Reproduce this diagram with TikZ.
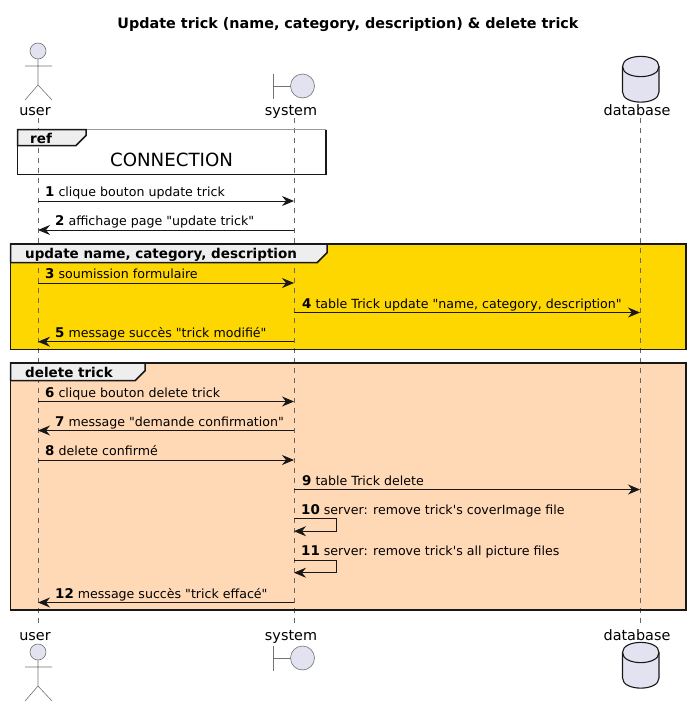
\documentclass[tikz,border=0pt]{standalone}
\usepackage{fontspec}
\setmainfont{DejaVu Sans}
\newfontfamily\djv{DejaVu Sans}
\usetikzlibrary{arrows.meta,positioning,calc}
\definecolor{partfill}{HTML}{E2E2F0}
\definecolor{inkc}{HTML}{181818}
\definecolor{goldc}{HTML}{FFD700}
\definecolor{peachc}{HTML}{FFD8B5}
\definecolor{tabc}{HTML}{EEEEEE}
\tikzset{
  ar/.style ={-{Stealth[length=12pt,width=10pt,inset=4pt]},line width=.9pt,draw=inkc},
  life/.style={draw=black!60,line width=.5pt,dash pattern=on 5pt off 5pt},
  frm/.style={draw=inkc,line width=1.5pt},
  tabf/.style={draw=inkc,line width=1.5pt,fill=tabc},
  fig/.style={draw=black!55,line width=.6pt},
  dbs/.style={draw=inkc,line width=1.1pt,fill=partfill},
  msg/.style={anchor=base west,inner sep=0pt,font=\djv\fontsize{12.6}{15}\selectfont},
  part/.style={anchor=base,inner sep=0pt,font=\fontsize{14.4}{16}\selectfont},
  hdr/.style={anchor=base west,inner sep=0pt,font=\fontsize{13.5}{15}\selectfont\bfseries},
}
\begin{document}
\begin{tikzpicture}[x=1pt,y=-1pt]
  \useasboundingbox (0,0) rectangle (691,707);
  \node[anchor=base,inner sep=0pt,font=\fontsize{14.35}{16}\selectfont\bfseries] (title) at (348,28){Update trick (name, category, description) \& delete trick};
  % grouping frames
  \fill[goldc] (10.5,244) rectangle (686,349.5);
  \fill[peachc] (10.5,363) rectangle (686,610);
  % lifelines
  \foreach \n/\x in {user/38,system/294,database/640}{
    \coordinate (\n top) at (\x,118);
    \coordinate (\n bot) at (\x,625);
    \draw[life] (\n top)--(\n bot);
  }
  % ref
  \draw[draw=black!40,line width=.7pt] (17.5,129.5)--(326,129.5);
  \draw[frm] (326,129.5)--(326,174.5)--(17.5,174.5)--(17.5,129.5);
  \draw[tabf] (17.5,129.5)--(86,129.5)--(86,135.5)--(76,145.5)--(17.5,145.5)--cycle;
  \node[hdr] (reft) at (30,143){ref};
  \node[anchor=base,inner sep=0pt,font=\fontsize{18.2}{20}\selectfont] (refn) at (171.5,166){CONNECTION};
  % update
  \draw[frm] (10.5,244) rectangle (686,349.5);
  \draw[tabf] (10.5,244)--(327,244)--(327,252.7)--(317,262.7)--(10.5,262.7)--cycle;
  \node[hdr] (updt) at (25,258.5){update name, category, description};
  % delete
  \draw[frm] (10.5,363) rectangle (686,610);
  \draw[tabf] (10.5,363)--(145,363)--(145,370.7)--(135,380.7)--(10.5,380.7)--cycle;
  \node[hdr] (delt) at (25,377.5){delete trick};
  % messages
  \foreach \i/\y in {1/201,2/230,3/283,4/312.5,5/341.7,6/401.5,7/430.5,8/460,9/489.5,10/518.5,11/560,12/602.5}{
    \coordinate (u\i) at (38,\y);
    \coordinate (s\i) at (294,\y);
    \coordinate (d\i) at (640,\y);
  }
  \foreach \i in {1,3,6,8} \draw[ar] (u\i)--(s\i);
  \foreach \i in {2,5,7,12} \draw[ar] (s\i)--(u\i);
  \foreach \i in {4,9} \draw[ar] (s\i)--(d\i);
  \foreach \i in {10,11} \draw[ar] (s\i)--++(42.7,0)--++(0,12.7)--++(-42.7,0);
  \foreach \i/\lx/\t in {1/45/clique bouton update trick,
                        2/55/affichage page "update trick",
                        3/45/soumission formulaire,
                        4/302/{table Trick update "name, category, description"},
                        5/55/message succès "trick modifié",
                        6/45/clique bouton delete trick,
                        7/55/message "demande confirmation",
                        8/45/delete confirmé,
                        9/302/table Trick delete,
                        10/301/server: remove trick's coverImage file,
                        11/301/server: remove trick's all picture files,
                        12/55/message succès "trick effacé"}{
    \path let \p1=(s\i) in node[msg] (m\i) at (\lx pt,\y1+4.5pt){{\bfseries\fontsize{13.4}{15}\selectfont\i} \t};
  }
  % participants
  \foreach \n/\dy in {a/0,b/525}{
    \begin{scope}[yshift=-\dy pt]
      \node[part] (user\n) at (35,115){user};
      \node[part] (system\n) at (291,115){system};
      \node[part] (database\n) at (637,115){database};
    \end{scope}
  }
  % figures
  \foreach \n/\dy in {a/0,b/601}{
    \begin{scope}[yshift=-\dy pt]
      \draw[fig,fill=partfill] (38,51) circle (8);
      \draw[fig] (38,59)--(38,85) (25,66)--(52,66) (25,100)--(38,85)--(52,100);
    \end{scope}
  }
  \foreach \n/\dy in {a/0,b/572}{
    \begin{scope}[yshift=-\dy pt]
      \draw[fig] (273.5,74)--(273.5,98.5) (273.5,86)--(290.5,86);
      \draw[fig,fill=partfill] (302.5,86) circle (12);
    \end{scope}
  }
  \foreach \n/\dy in {a/0,b/586}{
    \begin{scope}[yshift=-\dy pt]
      \draw[dbs] (622.5,66.5)--(622.5,92) .. controls (622.5,105.5) and (659,105.5) .. (659,92)--(659,66.5)
        .. controls (659,53) and (622.5,53) .. (622.5,66.5)--cycle;
      \draw[dbs,fill=none] (622.5,66.5) .. controls (622.5,80) and (659,80) .. (659,66.5);
    \end{scope}
  }
\end{tikzpicture}
\end{document}
